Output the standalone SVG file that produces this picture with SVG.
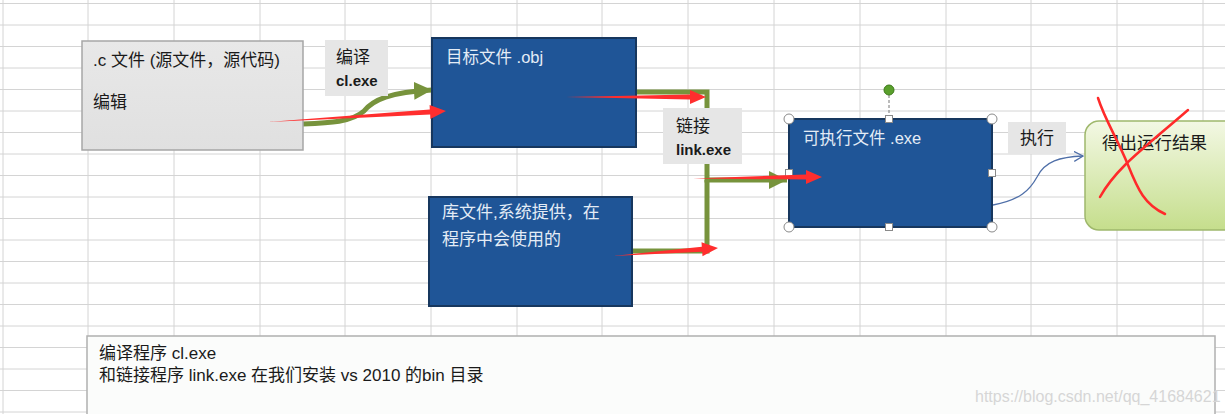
<svg xmlns="http://www.w3.org/2000/svg" width="1225" height="414" viewBox="0 0 1225 414">
<style>
text{font-family:"Liberation Sans","Noto Sans CJK SC",sans-serif;}
.grid line{stroke:#d4d4d4;stroke-width:1;}
.blue{fill:#1f5597;stroke:#17375e;stroke-width:2;}
.wt{fill:#e4ecf6;font-size:16.5px;}
.lbl{fill:#e6e6e6;}
.dk{fill:#1a1a1a;font-size:17px;}
.b{font-weight:bold;font-size:15px;}
.green{fill:none;stroke:#77933c;stroke-width:5;}
.red{fill:#ff2e2e;}
.xs{fill:none;stroke:#ff2a2a;stroke-width:2.5;stroke-linecap:round;}
.hc{fill:#fff;stroke:#8a8a8a;stroke-width:1;}
</style>
<defs>
<linearGradient id="gg" x1="0" y1="0" x2="0" y2="1">
<stop offset="0" stop-color="#f3f8e4"/>
<stop offset="1" stop-color="#c5de8c"/>
</linearGradient>
<linearGradient id="gray" x1="0" y1="0" x2="0" y2="1">
<stop offset="0" stop-color="#e8e8e8"/>
<stop offset="1" stop-color="#e0e0e0"/>
</linearGradient>
<marker id="ga" markerUnits="userSpaceOnUse" markerWidth="20" markerHeight="20" refX="18" refY="9" orient="auto">
<path d="M0,0 L18,9 L0,18 Z" fill="#77933c"/>
</marker>
<marker id="ba" markerUnits="userSpaceOnUse" markerWidth="12" markerHeight="12" refX="9" refY="5" orient="auto">
<path d="M0,0 L9,5 L0,10" fill="none" stroke="#4f6fa8" stroke-width="1.3"/>
</marker>
</defs>
<rect width="1225" height="414" fill="#ffffff"/>
<g class="grid">
<line x1="3" y1="0" x2="3" y2="414"/><line x1="88" y1="0" x2="88" y2="414"/><line x1="174" y1="0" x2="174" y2="414"/><line x1="260" y1="0" x2="260" y2="414"/><line x1="345" y1="0" x2="345" y2="414"/><line x1="431" y1="0" x2="431" y2="414"/><line x1="517" y1="0" x2="517" y2="414"/><line x1="602" y1="0" x2="602" y2="414"/><line x1="688" y1="0" x2="688" y2="414"/><line x1="774" y1="0" x2="774" y2="414"/><line x1="860" y1="0" x2="860" y2="414"/><line x1="946" y1="0" x2="946" y2="414"/><line x1="1031" y1="0" x2="1031" y2="414"/><line x1="1117" y1="0" x2="1117" y2="414"/><line x1="1203" y1="0" x2="1203" y2="414"/>
<line x1="0" y1="3.5" x2="1225" y2="3.5"/><line x1="0" y1="25" x2="1225" y2="25"/><line x1="0" y1="46.5" x2="1225" y2="46.5"/><line x1="0" y1="68" x2="1225" y2="68"/><line x1="0" y1="89.5" x2="1225" y2="89.5"/><line x1="0" y1="111" x2="1225" y2="111"/><line x1="0" y1="132.5" x2="1225" y2="132.5"/><line x1="0" y1="154" x2="1225" y2="154"/><line x1="0" y1="175.5" x2="1225" y2="175.5"/><line x1="0" y1="197" x2="1225" y2="197"/><line x1="0" y1="218.5" x2="1225" y2="218.5"/><line x1="0" y1="240" x2="1225" y2="240"/><line x1="0" y1="261.5" x2="1225" y2="261.5"/><line x1="0" y1="283" x2="1225" y2="283"/><line x1="0" y1="304.5" x2="1225" y2="304.5"/><line x1="0" y1="326" x2="1225" y2="326"/><line x1="0" y1="347.5" x2="1225" y2="347.5"/><line x1="0" y1="369" x2="1225" y2="369"/><line x1="0" y1="390.5" x2="1225" y2="390.5"/><line x1="0" y1="412" x2="1225" y2="412"/>
</g>
<g id="connectors">
<path class="green" d="M303,124 C330,123 352,122 364,111 C373,100 390,92 432,90" marker-end="url(#ga)"/>
<path class="green" d="M636,92 H707 V180 H787" marker-end="url(#ga)"/>
<path class="green" d="M632,251 H707 V180"/>
<path d="M993,205 C1020,200 1030,190 1037,177 C1045,161 1060,157 1083,156" fill="none" stroke="#4f6fa8" stroke-width="1.3" marker-end="url(#ba)"/>
</g>
<g id="source">
<rect x="82" y="41" width="221" height="109" fill="url(#gray)" stroke="#a6a6a6" stroke-width="1.5"/>
<text class="dk" x="93" y="66">.c 文件 (源文件，源代码)</text>
<text class="dk" x="93" y="108">编辑</text>
</g>
<g id="compile-label">
<rect class="lbl" x="325" y="40" width="63" height="56"/>
<text class="dk" x="336" y="63">编译</text>
<text class="dk b" x="336" y="86">cl.exe</text>
</g>
<g id="obj">
<rect class="blue" x="432" y="38" width="204" height="109"/>
<text class="wt" x="446" y="63">目标文件 .obj</text>
</g>
<g id="lib">
<rect class="blue" x="429" y="197" width="203" height="109"/>
<text class="wt" x="442" y="218" style="font-size:17px">库文件,系统提供，在</text>
<text class="wt" x="442" y="245" style="font-size:17px">程序中会使用的</text>
</g>
<g id="link-label">
<rect class="lbl" x="663" y="108" width="79" height="56"/>
<text class="dk" x="676" y="132">链接</text>
<text class="dk b" x="676" y="155">link.exe</text>
</g>
<g id="exe">
<rect class="blue" x="789" y="119" width="203" height="108"/>
<text class="wt" x="803" y="144">可执行文件 .exe</text>
<line x1="889" y1="95" x2="889" y2="115" stroke="#777" stroke-width="1" stroke-dasharray="3,2"/>
<circle cx="889" cy="90" r="5" fill="#5aa02c" stroke="#3d7a1a" stroke-width="1"/>
<circle class="hc" cx="789" cy="119" r="5"/><circle class="hc" cx="992" cy="119" r="5"/>
<circle class="hc" cx="789" cy="227" r="5"/><circle class="hc" cx="992" cy="227" r="5"/>
<rect class="hc" x="885.5" y="115.5" width="7" height="7"/><rect class="hc" x="885.5" y="223.5" width="7" height="7"/>
<rect class="hc" x="785.5" y="169.5" width="7" height="7"/><rect class="hc" x="988.5" y="169.5" width="7" height="7"/>
</g>
<g id="run-label">
<rect class="lbl" x="1008" y="122" width="58" height="32"/>
<text class="dk" x="1020" y="144">执行</text>
</g>
<g id="result">
<rect x="1085" y="121" width="170" height="109" rx="14" fill="url(#gg)" stroke="#9fb86c" stroke-width="1.5"/>
<text class="dk" x="1102" y="149" style="font-size:17.5px">得出运行结果</text>
<path class="xs" d="M1098,98 C1105,120 1118,140 1128,165 C1138,190 1145,205 1165,214"/>
<path class="xs" d="M1188,110 C1165,130 1140,150 1125,165 C1112,178 1105,188 1100,197"/>
</g>
<g id="note">
<rect x="87" y="336" width="1128" height="90" fill="#fbfcfb" stroke="#b0b0b0" stroke-width="1.5"/>
<text class="dk" x="99" y="359">编译程序 cl.exe</text>
<text class="dk" x="99" y="381">和链接程序 link.exe 在我们安装 vs 2010 的bin 目录</text>
</g>
<g id="annotations">
<polygon class="red" points="268,122 429.8,109.5 429.6,105 446,111 430.4,119 430.2,114.5"/>
<polygon class="red" points="566,97 690,94.5 690,90 706,97 690,104 690,99.5"/>
<polygon class="red" points="693,178.5 806,174.5 806,170 822,177 806,184 806,179.5"/>
<polygon class="red" points="613,256 701.8,246.7 701.5,242.2 718,248 702.5,256.2 702.2,251.7"/>
</g>
<text x="975" y="402" fill="#d6d6d6" style="font-size:16px">https://blog.csdn.net/qq_41684621</text>
</svg>
